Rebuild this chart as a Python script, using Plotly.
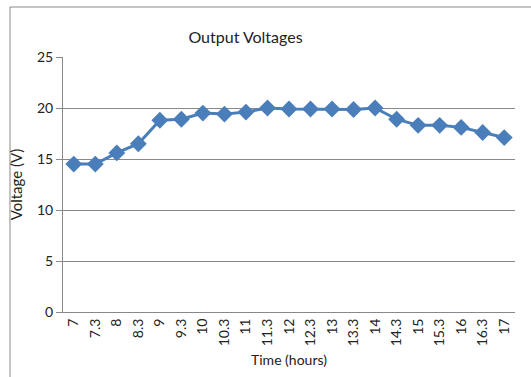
import plotly.graph_objects as go

time_labels = ["7", "7.3", "8", "8.3", "9", "9.3", "10", "10.3", "11", "11.3", "12",
               "12.3", "13", "13.3", "14", "14.3", "15", "15.3", "16", "16.3", "17"]
voltages = [14.5, 14.5, 15.6, 16.5, 18.8, 18.9, 19.5, 19.4, 19.6, 20.0, 19.9,
            19.9, 19.9, 19.85, 20.0, 18.9, 18.3, 18.3, 18.1, 17.6, 17.1]

FONT = "Lato, Open Sans, sans-serif"
L, R, T, B = 63, 16, 57, 65
W, H = 531, 377
pw, ph = W - L - R, H - T - B

def px(x):
    return (x - L) / pw

def py(y):
    return (H - B - y) / ph

fig = go.Figure()
fig.add_trace(go.Scatter(
    x=time_labels, y=voltages, mode="lines+markers",
    line=dict(color="#4a7ebb", width=3),
    marker=dict(symbol="diamond", size=13, color="#4a7ebb"),
    showlegend=False,
))

fig.update_layout(
    width=W, height=H,
    margin=dict(l=L, r=R, t=T, b=B),
    paper_bgcolor="white", plot_bgcolor="white",
    font=dict(family=FONT, size=14, color="#222"),
    title=dict(text="Output Voltages", x=px(272), xanchor="center",
               y=1 - 37 / H, yanchor="middle", font=dict(size=16, family=FONT)),
    xaxis=dict(type="category", tickangle=-90, showgrid=False,
               range=[-0.5, len(time_labels) - 0.5],
               showline=True, linecolor="#888", linewidth=1,
               ticks="", tickfont=dict(size=14),
               title=dict(text="Time (hours)", font=dict(size=14), standoff=9),
               fixedrange=True),
    yaxis=dict(range=[0, 25], dtick=5, showgrid=True, gridcolor="#888", gridwidth=1,
               showline=True, linecolor="#888", linewidth=1,
               ticks="outside", ticklen=6, tickcolor="#888",
               zeroline=False, tickfont=dict(size=14),
               title=dict(text="Voltage (V)", font=dict(size=15), standoff=10),
               fixedrange=True),
    shapes=[dict(type="rect", xref="paper", yref="paper",
                 x0=px(10), y0=py(400), x1=px(560), y1=py(7),
                 line=dict(color="#888", width=1), fillcolor="rgba(0,0,0,0)",
                 layer="below")],
)

fig.write_html("out.html", config={"displayModeBar": False})
